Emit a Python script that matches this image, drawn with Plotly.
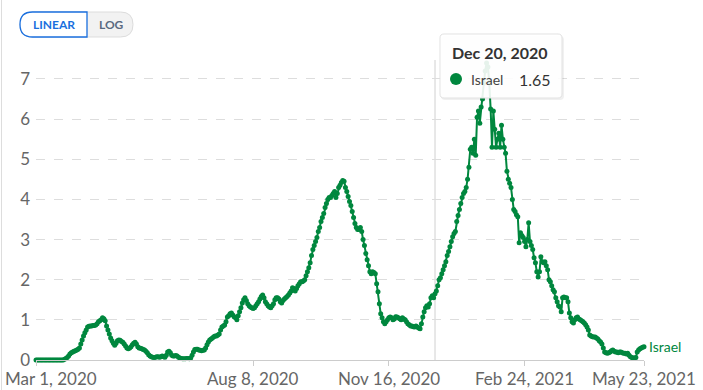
import pandas as pd
import plotly.graph_objects as go

# ---------------- data ----------------
start_date = "2020-03-01"
country = "Israel"
deaths_per_million = [
    0, 0, 0, 0, 0, 0, 0, 0, 0, 0,
    0, 0, 0, 0, 0, 0, 0, 0, 0, 0,
    0, 0.02, 0.04, 0.06, 0.1, 0.15, 0.18, 0.2, 0.22, 0.23,
    0.25, 0.27, 0.3, 0.4, 0.5, 0.6, 0.68, 0.75, 0.82, 0.84,
    0.85, 0.85, 0.86, 0.86, 0.87, 0.9, 0.95, 0.98, 1.0, 1.05,
    1.03, 0.98, 0.85, 0.75, 0.65, 0.55, 0.48, 0.42, 0.37, 0.42,
    0.48, 0.5, 0.49, 0.46, 0.44, 0.4, 0.35, 0.3, 0.28, 0.3,
    0.33, 0.38, 0.42, 0.44, 0.4, 0.33, 0.3, 0.29, 0.28, 0.26,
    0.25, 0.22, 0.18, 0.13, 0.1, 0.08, 0.07, 0.06, 0.07, 0.08,
    0.08, 0.07, 0.08, 0.1, 0.08, 0.07, 0.12, 0.2, 0.22, 0.18,
    0.12, 0.1, 0.1, 0.11, 0.1, 0.07, 0.05, 0.04, 0.03, 0.03,
    0.03, 0.04, 0.04, 0.03, 0.05, 0.12, 0.2, 0.26, 0.27, 0.27,
    0.25, 0.24, 0.23, 0.24, 0.25, 0.3, 0.38, 0.45, 0.5, 0.52,
    0.55, 0.58, 0.6, 0.6, 0.62, 0.65, 0.75, 0.82, 0.85, 0.87,
    0.95, 1.07, 1.1, 1.15, 1.17, 1.12, 1.08, 1.05, 1.0, 1.1,
    1.2, 1.3, 1.42, 1.5, 1.55, 1.48, 1.4, 1.35, 1.32, 1.3,
    1.28, 1.3, 1.35, 1.4, 1.45, 1.52, 1.58, 1.62, 1.55, 1.45,
    1.4, 1.35, 1.32, 1.3, 1.35, 1.4, 1.5, 1.55, 1.55, 1.52,
    1.45, 1.42, 1.48, 1.52, 1.55, 1.58, 1.62, 1.67, 1.72, 1.8,
    1.78, 1.72, 1.78, 1.85, 1.9, 1.95, 1.95, 1.97, 2.0, 2.1,
    2.2, 2.3, 2.42, 2.6, 2.75, 2.85, 2.95, 3.05, 3.2, 3.3,
    3.45, 3.55, 3.65, 3.8, 3.9, 4.0, 4.05, 4.05, 4.1, 4.15,
    4.2, 4.05, 4.15, 4.3, 4.35, 4.42, 4.47, 4.45, 4.3, 4.2,
    4.07, 3.95, 3.85, 3.7, 3.55, 3.4, 3.3, 3.25, 3.25, 3.3,
    3.2, 3.0, 2.85, 2.65, 2.5, 2.35, 2.2, 2.15, 2.2, 2.18,
    2.15, 1.9, 1.7, 1.4, 1.15, 1.05, 0.95, 0.9, 0.95, 1.0,
    1.05, 1.07, 1.05, 1.0, 1.02, 1.08, 1.07, 1.05, 1.03, 1.0,
    1.05, 1.02, 1.0, 0.95, 0.9, 0.88, 0.85, 0.85, 0.83, 0.82,
    0.85, 0.82, 0.8, 0.78, 0.9, 1.07, 1.2, 1.3, 1.35, 1.32,
    1.4, 1.55, 1.6, 1.55, 1.65, 1.72, 1.85, 2.0, 2.05, 2.15,
    2.25, 2.35, 2.45, 2.6, 2.7, 2.82, 2.95, 3.07, 3.15, 3.2,
    3.45, 3.6, 3.75, 3.9, 4.05, 4.15, 4.2, 4.3, 4.5, 4.8,
    5.25, 5.3, 5.15, 5.5, 5.1, 6.05, 6.2, 5.9, 6.3, 6.5,
    6.9, 7.2, 7.4, 7.3, 6.9, 6.25, 5.3, 6.2, 5.75, 5.3,
    5.5, 5.65, 5.3, 5.85, 5.5, 5.3, 5.15, 4.7, 4.5, 4.4,
    4.3, 4.0, 3.75, 3.7, 3.62, 3.57, 2.92, 3.17, 3.1, 3.05,
    2.95, 2.82, 3.0, 3.42, 2.95, 2.85, 2.75, 2.55, 2.42, 2.2,
    2.07, 2.2, 2.57, 2.45, 2.42, 2.45, 2.35, 2.25, 2.0, 1.95,
    1.85, 1.75, 1.7, 1.55, 1.45, 1.35, 1.32, 1.2, 1.55, 1.57,
    1.55, 1.55, 1.45, 1.17, 1.05, 0.95, 0.92, 1.0, 1.05, 1.07,
    1.02, 1.0, 0.98, 0.95, 0.92, 0.88, 0.82, 0.75, 0.62, 0.6,
    0.58, 0.57, 0.57, 0.55, 0.52, 0.48, 0.45, 0.4, 0.3, 0.2,
    0.18, 0.17, 0.18, 0.2, 0.23, 0.25, 0.22, 0.2, 0.2, 0.18,
    0.2, 0.2, 0.18, 0.17, 0.17, 0.15, 0.17, 0.12, 0.08, 0.06,
    0.05, 0.05, 0.06, 0.2, 0.25, 0.28, 0.3, 0.32, 0.33,
]
x_tick_dates = ["2020-03-01", "2020-08-08", "2020-11-16", "2021-02-24", "2021-05-23"]
x_tick_labels = ["Mar 1, 2020", "Aug 8, 2020", "Nov 16, 2020", "Feb 24, 2021", "May 23, 2021"]
y_tick_vals = [0, 1, 2, 3, 4, 5, 6, 7]
hover_date = "2020-12-20"
hover_label = "Dec 20, 2020"

dates = pd.date_range(start_date, periods=len(deaths_per_million), freq="D")
hover_value = deaths_per_million[list(dates).index(pd.Timestamp(hover_date))]

# ---------------- layout geometry ----------------
W, H = 703, 390
ML, MR, MT, MB = 36, 59, 60, 30
PW, PH = W - ML - MR, H - MT - MB
GREEN = "#00873e"
FONT = "Lato"
TICK_SIZE = 17


def px(xp):
    return (xp - ML) / PW


def py(yp):
    return (H - MB - yp) / PH


def rrect(x0, y0, x1, y1, rl, rr):
    """rounded rect path in paper coords from pixel coords; rl/rr = radius of left/right corners"""
    def P(a, b):
        return f"{px(a):.5f},{py(b):.5f}"
    d = f"M {P(x0 + rl, y0)} L {P(x1 - rr, y0)} Q {P(x1, y0)} {P(x1, y0 + rr)} "
    d += f"L {P(x1, y1 - rr)} Q {P(x1, y1)} {P(x1 - rr, y1)} "
    d += f"L {P(x0 + rl, y1)} Q {P(x0, y1)} {P(x0, y1 - rl)} "
    d += f"L {P(x0, y0 + rl)} Q {P(x0, y0)} {P(x0 + rl, y0)} Z"
    return d


fig = go.Figure()
fig.add_trace(go.Scatter(
    x=dates, y=deaths_per_million, mode="lines+markers",
    line=dict(color=GREEN, width=2),
    marker=dict(color=GREEN, size=5),
    cliponaxis=False, hoverinfo="skip", showlegend=False,
))

shapes = []
annotations = []

# hover guide line
shapes.append(dict(type="line", xref="x", yref="paper", x0=hover_date, x1=hover_date,
                   y0=0, y1=1, line=dict(color="#d0d0d0", width=1), layer="below"))
# left frame line
shapes.append(dict(type="line", xref="paper", yref="paper", x0=px(1.5), x1=px(1.5),
                   y0=py(0), y1=py(390), line=dict(color="#dddddd", width=1)))

# LINEAR / LOG toggle
shapes.append(dict(type="path", xref="paper", yref="paper", path=rrect(20, 12, 133, 37, 12.5, 12.5),
                   fillcolor="#f2f2f2", line=dict(color="#dcdcdc", width=1)))
shapes.append(dict(type="path", xref="paper", yref="paper", path=rrect(20, 12, 87, 37, 12.5, 0),
                   fillcolor="#ffffff", line=dict(color="#1a6fde", width=1.3)))
annotations.append(dict(x=px(53.5), y=py(24.5), xref="paper", yref="paper", text="<b>LINEAR</b>",
                        showarrow=False, xanchor="center", yanchor="middle",
                        font=dict(family=FONT, size=12, color="#1a6fde")))
annotations.append(dict(x=px(111), y=py(24.5), xref="paper", yref="paper", text="<b>LOG</b>",
                        showarrow=False, xanchor="center", yanchor="middle",
                        font=dict(family=FONT, size=12, color="#5a6a80")))

# x tick labels (annotations so the first one can be kept inside the canvas)
for i, (d, t) in enumerate(zip(x_tick_dates, x_tick_labels)):
    if i == 0:
        annotations.append(dict(x=px(3), y=py(378), xref="paper", yref="paper", text=t,
                                showarrow=False, xanchor="left", yanchor="middle",
                                font=dict(family=FONT, size=TICK_SIZE, color="#666666")))
    else:
        annotations.append(dict(x=d, y=py(378), xref="x", yref="paper", text=t,
                                showarrow=False, xanchor="center", yanchor="middle",
                                font=dict(family=FONT, size=TICK_SIZE, color="#666666")))

# end-of-line label
annotations.append(dict(x=dates[-1], y=deaths_per_million[-1], xref="x", yref="y", text=country,
                        showarrow=False, xanchor="left", yanchor="middle", xshift=3,
                        font=dict(family=FONT, size=14, color=GREEN)))

# tooltip
shapes.append(dict(type="path", xref="paper", yref="paper", path=rrect(441, 36, 564, 100, 4, 4),
                   fillcolor="rgba(0,0,0,0.06)", line=dict(width=0)))
shapes.append(dict(type="path", xref="paper", yref="paper", path=rrect(440, 34, 562, 98, 4, 4),
                   fillcolor="rgba(255,255,255,0.9)", line=dict(color="#e2e2e2", width=1)))
shapes.append(dict(type="circle", xref="paper", yref="paper", x0=px(450), x1=px(462),
                   y0=py(73), y1=py(85), fillcolor=GREEN, line=dict(width=0)))
annotations.append(dict(x=px(450), y=py(53), xref="paper", yref="paper", text=f"<b>{hover_label}</b>",
                        showarrow=False, xanchor="left", yanchor="middle",
                        font=dict(family=FONT, size=16, color="#333333")))
annotations.append(dict(x=px(469), y=py(79), xref="paper", yref="paper", text=country,
                        showarrow=False, xanchor="left", yanchor="middle",
                        font=dict(family=FONT, size=14, color="#444444")))
annotations.append(dict(x=px(553), y=py(79), xref="paper", yref="paper", text=f"{hover_value:.2f}",
                        showarrow=False, xanchor="right", yanchor="middle",
                        font=dict(family=FONT, size=16, color="#333333")))

fig.update_layout(
    width=W, height=H,
    margin=dict(l=ML, r=MR, t=MT, b=MB, autoexpand=False),
    paper_bgcolor="white", plot_bgcolor="white",
    font=dict(family=FONT, color="#666666"),
    shapes=shapes, annotations=annotations,
    showlegend=False, hovermode=False,
)
fig.update_xaxes(
    type="date", range=[dates[0], dates[-1]],
    tickvals=x_tick_dates, showticklabels=False,
    ticks="outside", ticklen=5, tickcolor="#cccccc",
    showline=True, linecolor="#cccccc", linewidth=1,
    showgrid=False, zeroline=False,
)
fig.update_yaxes(
    range=[0, 7.473], tickvals=y_tick_vals,
    showgrid=True, gridcolor="#dddddd", griddash="dash", gridwidth=1,
    zeroline=False, showline=False, ticks="",
    tickfont=dict(family=FONT, size=TICK_SIZE, color="#666666"),
    ticklabelstandoff=5,
)

fig.write_html("out.html", config={"displayModeBar": False},
               post_script="document.body.style.margin='0px';")
